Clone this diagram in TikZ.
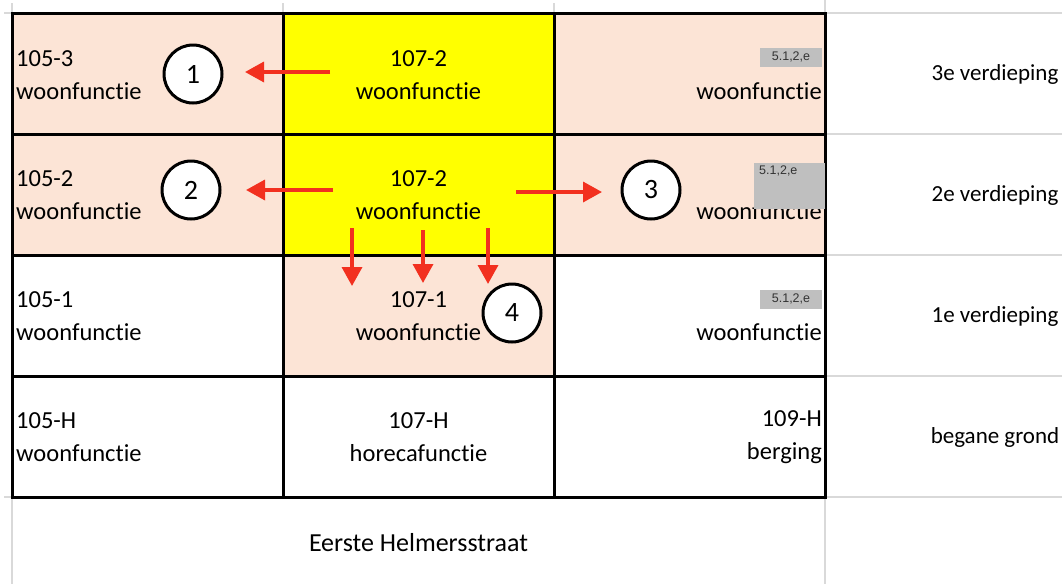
\documentclass[tikz,border=0pt]{standalone}
\usepackage{fontspec}
\setmainfont[Ligatures={NoCommon,NoRare}]{Carlito}
\newfontfamily\arialf{Liberation Sans}
\usetikzlibrary{arrows.meta}
\definecolor{peach}{HTML}{FCE4D6}
\definecolor{ylw}{HTML}{FFFF00}
\definecolor{arrred}{HTML}{F2301F}
\definecolor{gridgrey}{HTML}{D9D9D9}
\definecolor{redact}{HTML}{BFBFBF}
\tikzset{
  gridline/.style={line width=3pt, black},
  faint/.style={line width=1.2pt, gridgrey},
  txt/.style={font=\fontsize{24.5}{33}\selectfont, inner sep=0pt},
  cellL/.style={txt, anchor=west, align=left},
  cellC/.style={txt, anchor=center, align=center},
  cellR/.style={txt, anchor=east, align=right},
  floortxt/.style={font=\fontsize{23}{28}\selectfont, inner sep=0pt},
  numcirc/.style={circle, draw=black, line width=3pt, fill=white, minimum size=58pt, inner sep=0pt, font=\fontsize{28}{30}\selectfont},
  redarrow/.style={arrred, line width=3.5pt, -{Triangle[length=19pt,width=20pt]}},
  redactfont/.style={font=\arialf\fontsize{12.5}{14}\selectfont, text=black!80},
  redactbox/.style={fill=redact, inner sep=0pt, redactfont}
}
\begin{document}
\begin{tikzpicture}[x=1pt,y=-1pt]
\useasboundingbox (0,0) rectangle (1062,584);
\fill[white] (0,0) rectangle (1062,584);
% cell fills
\fill[peach] (12,13) rectangle (283,255);
\fill[peach] (554,13) rectangle (825,255);
\fill[peach] (283,255) rectangle (554,376);
\fill[ylw] (283,13) rectangle (554,255);
% faint spreadsheet lines
\draw[faint] (825,0) -- (825,584);
\draw[faint] (12,497) -- (12,584);
\draw[faint] (12,3) -- (12,13);
\draw[faint] (283,3) -- (283,13);
\draw[faint] (554,3) -- (554,13);
\draw[faint] (4,13) -- (12,13);
\draw[faint] (4,497) -- (12,497);
\foreach \yy in {13,134,255,376,497} {\draw[faint] (825,\yy) -- (1062,\yy);}
% grid
\draw[gridline] (12,13) rectangle (825,497);
\foreach \yy in {134,255,376} {\draw[gridline] (12,\yy) -- (825,\yy);}
\foreach \xx in {283,554} {\draw[gridline] (\xx,13) -- (\xx,497);}
% cell texts
\node[cellL] (t13) at (16,75) {105-3\\woonfunctie};
\node[cellC] (t23) at (418.5,75) {107-2\\woonfunctie};
\node[cellR] (t33) at (822,91) {woonfunctie};
\node[cellL] (t12) at (16,195) {105-2\\woonfunctie};
\node[cellC] (t22) at (418.5,195) {107-2\\woonfunctie};
\node[cellR] (t32) at (822,211) {woonfunctie};
\node[cellL] (t11) at (16,316) {105-1\\woonfunctie};
\node[cellC] (t21) at (418.5,316) {107-1\\woonfunctie};
\node[cellR] (t31) at (822,332) {woonfunctie};
\node[cellL] (t10) at (16,437) {105-H\\woonfunctie};
\node[cellC] (t20) at (418.5,437) {107-H\\horecafunctie};
\node[cellR] (t30) at (822,437) {109-H\\berging};
% redaction boxes
\node[redactbox, minimum width=62pt, minimum height=19pt] (r3) at (791,57) {5.1,2,e};
\node[redactbox, minimum width=71pt, minimum height=46pt] (r2) at (789.5,186) {};
\node[anchor=north west, inner sep=0pt, redactfont] (r2t) at (759,166) {5.1,2,e};
\node[redactbox, minimum width=62pt, minimum height=19pt] (r1) at (791,299) {5.1,2,e};
% floor labels
\node[floortxt] (f3) at (995,74) {3e verdieping};
\node[floortxt] (f2) at (995,195) {2e verdieping};
\node[floortxt] (f1) at (995,316) {1e verdieping};
\node[floortxt] (f0) at (995,437) {begane grond};
\node[font=\fontsize{26}{30}\selectfont, inner sep=0pt] (street) at (418.5,543) {Eerste Helmersstraat};
% circles
\node[numcirc] (n1) at (193,74) {1};
\node[numcirc] (n2) at (191,190) {2};
\node[numcirc] (n3) at (651,190) {3};
\node[numcirc] (n4) at (512,313) {4};
% arrows
\coordinate (a1s) at (330,72);
\coordinate (a1e) at (245,72);
\coordinate (a2s) at (333,190);
\coordinate (a2e) at (246,190);
\coordinate (a3s) at (516,192);
\coordinate (a3e) at (602,192);
\coordinate (d1s) at (352,228);
\coordinate (d1e) at (352,286);
\coordinate (d2s) at (423,230);
\coordinate (d2e) at (423,283);
\coordinate (d3s) at (488,228);
\coordinate (d3e) at (488,284);
\draw[redarrow] (a1s) -- (a1e);
\draw[redarrow] (a2s) -- (a2e);
\draw[redarrow] (a3s) -- (a3e);
\draw[redarrow] (d1s) -- (d1e);
\draw[redarrow] (d2s) -- (d2e);
\draw[redarrow] (d3s) -- (d3e);
\end{tikzpicture}
\end{document}
